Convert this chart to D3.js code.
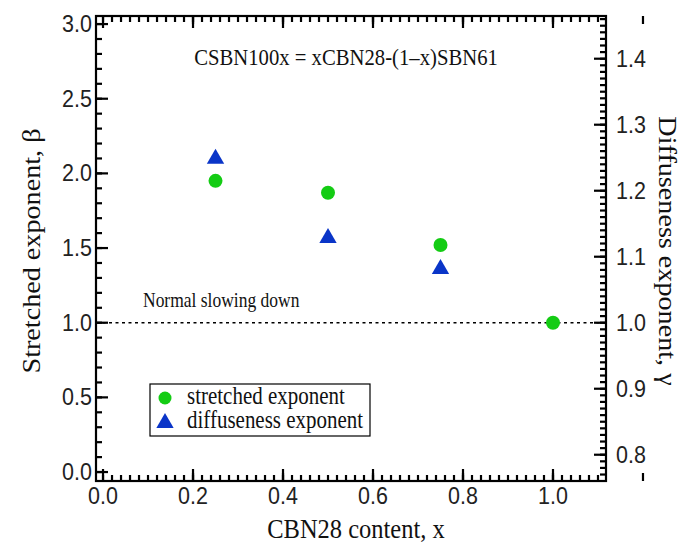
<!DOCTYPE html>
<html>
<head>
<meta charset="utf-8">
<script src="https://cdn.jsdelivr.net/npm/d3@7"></script>
<style>
  html, body { margin: 0; padding: 0; background: #fff; }
  .num { font-family: "Liberation Sans", Arial, sans-serif; fill: #222; }
  .serif { font-family: "Liberation Serif", "Times New Roman", serif; fill: #111; }
</style>
</head>
<body>
<svg id="chart" width="688" height="545"></svg>
<script>
// CBN28 content of each CSBN composition
const content = [0.25, 0.5, 0.75, 1.0];
// stretched exponent beta (left axis)
const stretched = [1.95, 1.87, 1.52, 1.0];
// diffuseness exponent gamma (right axis); none for x = 1.0
const diffContent = [0.25, 0.5, 0.75];
const diffuseness = [1.25, 1.13, 1.083];

const xTicks = [0.0, 0.2, 0.4, 0.6, 0.8, 1.0];
const yLeftTicks = [0.0, 0.5, 1.0, 1.5, 2.0, 2.5, 3.0];
const yRightTicks = [0.8, 0.9, 1.0, 1.1, 1.2, 1.3, 1.4];

const svg = d3.select("#chart");
const L = 96, R = 606, T = 16, B = 481;

const x = d3.scaleLinear().domain([-0.0156, 1.1178]).range([L, R]);
const yL = d3.scaleLinear().domain([-0.06, 3.054]).range([B, T]);
const yR = d3.scaleLinear().domain([0.7602, 1.4647]).range([B, T]);

const steps = (a, b, s) => d3.range(Math.round(a / s), Math.round(b / s) + 1).map(i => +(i * s).toFixed(4));
const fmt = d3.format(".1f");
const STRETCH = 1.15;   // glyphs are drawn a little taller than wide

// text helper: anchored at (px, py), optionally rotated, stretched vertically
function label(cls, px, py, str, size, anchor, rot) {
  return svg.append("text").attr("class", cls).attr("font-size", size)
    .attr("text-anchor", anchor || "start").text(str)
    .attr("transform", `translate(${px},${py}) scale(1,${STRETCH})` + (rot ? ` rotate(${rot})` : ""));
}

// inward tick marks along one frame side
const tickLayer = svg.append("g").attr("class", "ticks");
function drawTicks(values, scale, side, len) {
  const horiz = side === "bottom" || side === "top";
  tickLayer.append("g").selectAll("line").data(values).join("line")
    .attr("stroke", "#000").attr("stroke-width", 2.2)
    .attr("x1", v => horiz ? scale(v) : (side === "left" ? L : R))
    .attr("x2", v => horiz ? scale(v) : (side === "left" ? L + len : R - len))
    .attr("y1", v => horiz ? (side === "top" ? T : B) : scale(v))
    .attr("y2", v => horiz ? (side === "top" ? T + len : B - len) : scale(v));
}

const xMinor = steps(0, 1.1, 0.02);
const xMid = steps(0.1, 1.1, 0.2);
drawTicks(xMinor, x, "bottom", 6);
drawTicks(xMid, x, "bottom", 8);
drawTicks(xTicks, x, "bottom", 12);
drawTicks(xMinor, x, "top", 6);
drawTicks(xMid, x, "top", 8);
drawTicks(xTicks, x, "top", 12);
drawTicks(steps(0, 3.0, 0.1), yL, "left", 6);
drawTicks(yLeftTicks, yL, "left", 12);
drawTicks(steps(0.77, 1.46, 0.01), yR, "right", 6);
drawTicks(yRightTicks, yR, "right", 12);

xTicks.forEach(d => label("num", x(d), 504, fmt(d), 21.5, "middle"));
yLeftTicks.forEach(d => label("num", L - 4, yL(d) + 8, fmt(d), 21.5, "end"));
yRightTicks.forEach(d => label("num", R + 10, yR(d) + 8, fmt(d), 21.5, "start"));

// frame
svg.append("rect").attr("x", L).attr("y", T).attr("width", R - L).attr("height", B - T)
  .attr("fill", "none").attr("stroke", "#000").attr("stroke-width", 2.2);

// normal slowing down reference line, beta = 1
svg.append("line").attr("x1", L).attr("x2", R).attr("y1", yL(1)).attr("y2", yL(1))
  .attr("stroke", "#000").attr("stroke-width", 1.6).attr("stroke-dasharray", "3,3.5");
label("serif", 143, yL(1) - 16, "Normal slowing down", 17.5);
label("serif", 346, 65, "CSBN100x = xCBN28-(1\u2013x)SBN61", 20.7, "middle");

const green = "#14cc14", blue = "#0a35c8";
const tri = d3.symbol().type(d3.symbolTriangle).size(130);

svg.append("g").selectAll("circle").data(content).join("circle")
  .attr("cx", d => x(d)).attr("cy", (d, i) => yL(stretched[i])).attr("r", 7).attr("fill", green);
svg.append("g").selectAll("path").data(diffContent).join("path")
  .attr("d", tri).attr("transform", (d, i) => `translate(${x(d)},${yR(diffuseness[i]) + 1})`)
  .attr("fill", blue);

// legend
svg.append("rect").attr("x", 150).attr("y", 384).attr("width", 220).attr("height", 52)
  .attr("fill", "#fff").attr("stroke", "#000").attr("stroke-width", 1.2);
svg.append("circle").attr("cx", 165).attr("cy", 398).attr("r", 6.5).attr("fill", green);
svg.append("path").attr("d", tri).attr("transform", "translate(165,423)").attr("fill", blue);
label("serif", 187, 404, "stretched exponent", 21);
label("serif", 187, 428, "diffuseness exponent", 21);

// axis titles
label("serif", 356, 538, "CBN28 content, x", 24.5, "middle");
label("serif", 40, 251, "Stretched exponent, \u03b2", 24.5, "middle", -90);
label("serif", 659, 251, "Diffuseness exponent, \u03b3", 24.5, "middle", 90);
</script>
</body>
</html>
